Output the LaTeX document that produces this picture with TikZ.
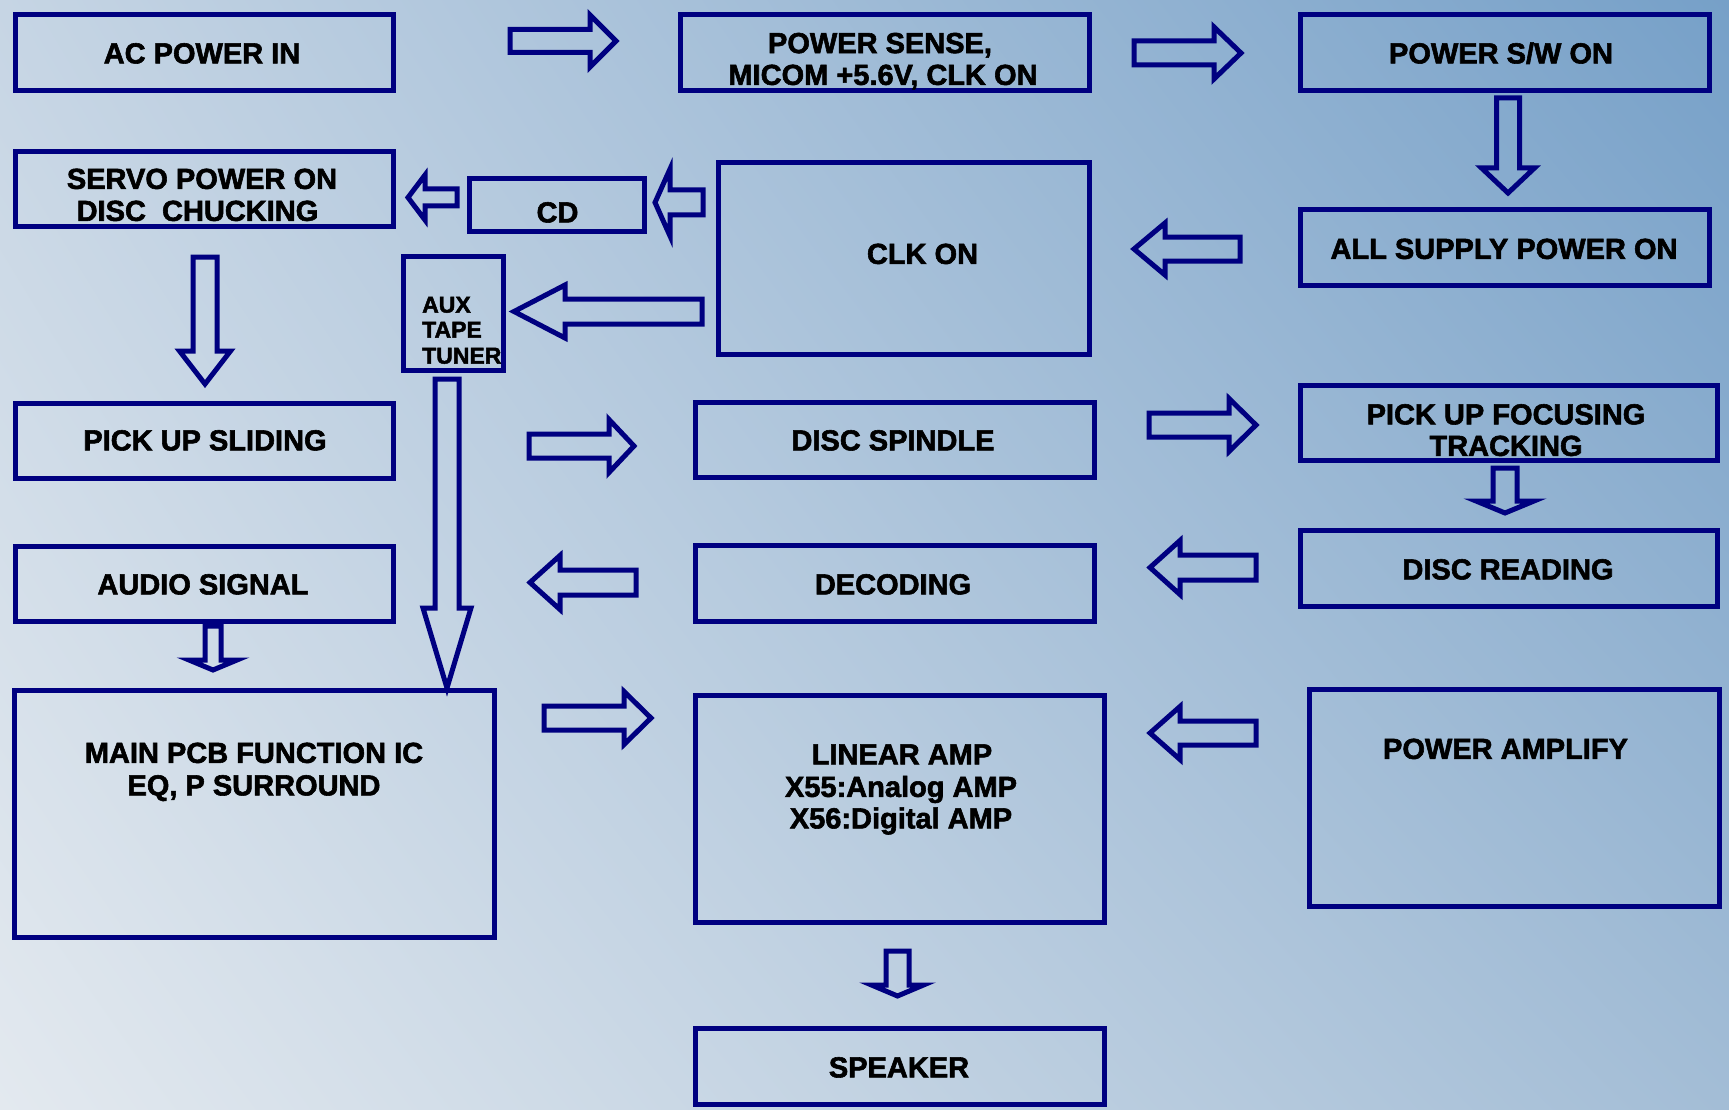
\documentclass[tikz,border=0pt]{standalone}
\usepackage{fontspec}
\usetikzlibrary{shadings}
\setmainfont{Liberation Sans}[BoldFeatures={FakeBold=2}]
\definecolor{navyb}{HTML}{000080}
\definecolor{bgUL}{RGB}{198,213,228}
\definecolor{bgUR}{RGB}{118,160,200}
\definecolor{bgLL}{RGB}{227,233,239}
\definecolor{bgLR}{RGB}{163,189,214}
\newcommand\harrow[6]{\draw[barrow] (#1,#4-#5) -- (#2,#4-#5) -- (#2,#4-#6) -- (#3,#4) -- (#2,#4+#6) -- (#2,#4+#5) -- (#1,#4+#5) -- cycle;}
\newcommand\varrow[6]{\draw[barrow] (#1-#5,#2) -- (#1-#5,#3) -- (#1-#6,#3) -- (#1,#4) -- (#1+#6,#3) -- (#1+#5,#3) -- (#1+#5,#2) -- cycle;}
\begin{document}
\begin{tikzpicture}[x=1pt,y=-1pt,
  box/.style={draw=navyb, line width=5pt, rectangle, inner sep=0pt},
  barrow/.style={draw=navyb, line width=5pt, line join=miter},
  lbl/.style={anchor=base, inner sep=0pt, text=black, font=\bfseries\fontsize{29}{32}\selectfont},
  slbl/.style={anchor=base west, inner sep=0pt, text=black, font=\bfseries\fontsize{23}{25}\selectfont}]
\shade[upper left=bgUL, upper right=bgUR, lower left=bgLL, lower right=bgLR] (0,0) rectangle (1729,1110);
\useasboundingbox (0,0) rectangle (1729,1110);

% boxes
\node[box, minimum width=378pt, minimum height=76pt] (ac) at (204.5,52.5) {};
\node[box, minimum width=409pt, minimum height=76pt] (ps) at (885,52.5) {};
\node[box, minimum width=409pt, minimum height=76pt] (psw) at (1505,52.5) {};
\node[box, minimum width=378pt, minimum height=75pt] (servo) at (204.5,189) {};
\node[box, minimum width=175pt, minimum height=53pt] (cd) at (557,205) {};
\node[box, minimum width=371pt, minimum height=192pt] (clk) at (904,258.5) {};
\node[box, minimum width=409pt, minimum height=76pt] (all) at (1505,247.5) {};
\node[box, minimum width=100pt, minimum height=114pt] (aux) at (453.5,313.5) {};
\node[box, minimum width=378pt, minimum height=75pt] (pus) at (204.5,441) {};
\node[box, minimum width=399pt, minimum height=75pt] (dsp) at (895,440) {};
\node[box, minimum width=417pt, minimum height=75pt] (puf) at (1509,423) {};
\node[box, minimum width=378pt, minimum height=75pt] (aud) at (204.5,584) {};
\node[box, minimum width=399pt, minimum height=76pt] (dec) at (895,583.5) {};
\node[box, minimum width=417pt, minimum height=76pt] (dr) at (1509,568.5) {};
\node[box, minimum width=480pt, minimum height=247pt] (main) at (254.5,814) {};
\node[box, minimum width=409pt, minimum height=227pt] (lin) at (900,809) {};
\node[box, minimum width=410pt, minimum height=217pt] (pa) at (1514.5,798) {};
\node[box, minimum width=409pt, minimum height=76pt] (spk) at (900,1066.5) {};

% labels
\node[lbl] (tac) at (202,63.4) {AC POWER IN};
\node[lbl] (tps1) at (880,53.1) {POWER SENSE,};
\node[lbl] (tps2) at (883,84.9) {MICOM +5.6V, CLK ON};
\node[lbl] (tpsw) at (1501,63.4) {POWER S/W ON};
\node[lbl] (tsv1) at (202,188.9) {SERVO POWER ON};
\node[lbl] (tsv2) at (197.5,220.9) {DISC\ \ CHUCKING};
\node[lbl] (tcd) at (557.5,222.4) {CD};
\node[lbl] (tclk) at (922.5,263.9) {CLK ON};
\node[lbl] (tall) at (1504,258.9) {ALL SUPPLY POWER ON};
\node[slbl] (taux1) at (422,312.6) {AUX};
\node[slbl] (taux2) at (422,337.6) {TAPE};
\node[slbl] (taux3) at (422,363.6) {TUNER};
\node[lbl] (tpus) at (205,450.4) {PICK UP SLIDING};
\node[lbl] (tdsp) at (893,450.4) {DISC SPINDLE};
\node[lbl] (tpuf1) at (1506,424.4) {PICK UP FOCUSING};
\node[lbl] (tpuf2) at (1506,455.9) {TRACKING};
\node[lbl] (taud) at (203,594.4) {AUDIO SIGNAL};
\node[lbl] (tdec) at (893,594.4) {DECODING};
\node[lbl] (tdr) at (1508,579.4) {DISC READING};
\node[lbl] (tmain1) at (254,762.9) {MAIN PCB FUNCTION IC};
\node[lbl] (tmain2) at (254,795.4) {EQ, P SURROUND};
\node[lbl] (tlin1) at (902,764.4) {LINEAR AMP};
\node[lbl] (tlin2) at (901,796.9) {X55:Analog AMP};
\node[lbl] (tlin3) at (901,828.4) {X56:Digital AMP};
\node[lbl] (tpa) at (1505.5,758.9) {POWER AMPLIFY};
\node[lbl] (tspk) at (899,1077.4) {SPEAKER};

% block arrows
\harrow{510}{590}{616}{41}{11.5}{26}
\harrow{1134}{1214}{1241}{53}{12}{26}
\varrow{1508}{98}{168}{193}{11.5}{26.5}
\harrow{1240}{1165}{1134}{249}{12}{26}
\harrow{702}{565}{514}{311.5}{12.5}{26.5}
\harrow{703}{670}{655}{202.5}{12.5}{33.5}
\harrow{457}{425}{408}{197.5}{8.5}{22.5}
\varrow{205}{257}{351}{384}{12}{25.5}
\varrow{447}{379}{608}{688}{12}{24}
\harrow{529}{609}{634}{446}{12}{26.5}
\harrow{1149}{1229}{1256}{425}{12}{26.5}
\varrow{1505}{468}{501}{513}{12}{29}
\harrow{1256}{1180}{1150}{567.5}{12.5}{27}
\harrow{636}{560}{530}{582.5}{12.5}{27}
\varrow{213}{626}{660}{670}{8}{24}
\harrow{544}{624}{651}{718}{12}{26.5}
\harrow{1256}{1180}{1150}{733}{12}{26.5}
\varrow{897.5}{951}{985}{996}{11.5}{26}
\end{tikzpicture}
\end{document}
